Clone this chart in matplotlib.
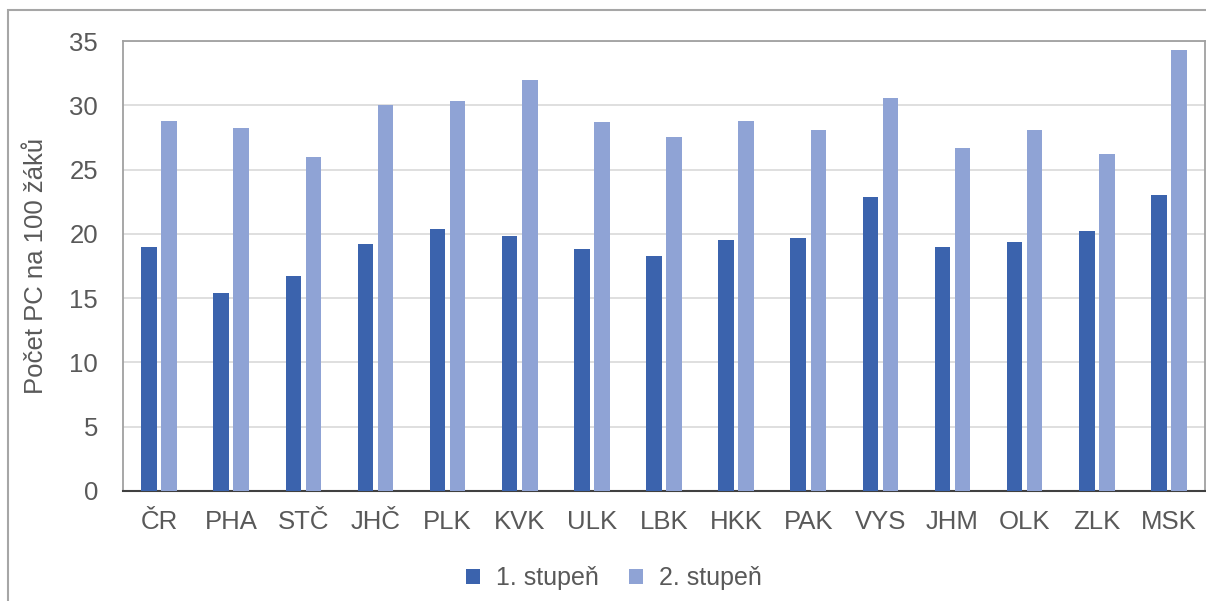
import matplotlib
matplotlib.use("Agg")
import matplotlib.pyplot as plt
import numpy as np
from matplotlib.patches import Rectangle

plt.rcParams['font.family'] = ['Liberation Sans', 'DejaVu Sans']

categories = ["ČR", "PHA", "STČ", "JHČ", "PLK", "KVK", "ULK", "LBK", "HKK", "PAK",
              "VYS", "JHM", "OLK", "ZLK", "MSK"]
stupen1 = [19.0, 15.4, 16.7, 19.2, 20.4, 19.8, 18.8, 18.3, 19.5, 19.7, 22.9, 19.0, 19.4, 20.2, 23.0]
stupen2 = [28.8, 28.2, 26.0, 30.0, 30.3, 32.0, 28.7, 27.5, 28.8, 28.1, 30.6, 26.7, 28.1, 26.2, 34.3]
series_names = ["1. stupeň", "2. stupeň"]
yticks = [0, 5, 10, 15, 20, 25, 30, 35]

c1 = "#3B63AD"
c2 = "#8FA3D5"
txt = "#595959"
fs = 18.5

fig = plt.figure(figsize=(12.06, 6.01), dpi=100)
ax = fig.add_axes([123/1206, 1-491/601, (1205-123)/1206, (491-41)/601])

x = np.arange(len(categories))
w = 0.215
off = 0.139
ax.bar(x - off, stupen1, width=w, color=c1, label=series_names[0], zorder=3)
ax.bar(x + off, stupen2, width=w, color=c2, label=series_names[1], zorder=3)

ax.set_xlim(-0.5, len(categories) - 0.5)
ax.set_ylim(0, 35)
ax.set_yticks(yticks)
ax.set_xticks(x)
ax.set_xticklabels(categories)
ax.tick_params(axis='both', length=0, labelsize=fs, colors=txt)
ax.tick_params(axis='x', pad=14)
ax.tick_params(axis='y', pad=18)
ax.yaxis.grid(True, color="#D9D9D9", linewidth=1.2, zorder=0)
ax.set_axisbelow(True)
for s in ["top", "right", "left"]:
    ax.spines[s].set_color("#A0A0A0")
    ax.spines[s].set_linewidth(1.3)
ax.spines["bottom"].set_color("#404040")
ax.spines["bottom"].set_linewidth(1.5)

ax.set_ylabel("Počet PC na 100 žáků", fontsize=fs, color=txt)
ax.yaxis.set_label_coords((48-123)/1082, 0.5)

leg = ax.legend(loc="center", bbox_to_anchor=((614-123)/1082, (491-578)/450), ncol=2, frameon=False,
                fontsize=18, handlelength=0.55, handleheight=0.55, handletextpad=0.65,
                columnspacing=1.2, labelcolor=txt)

fig.patches.append(Rectangle((8/1206, -0.1), 1.2, 1 - 10/601 + 0.1, transform=fig.transFigure,
                             fill=False, edgecolor="#A6A6A6", linewidth=1.5))

fig.savefig("out.png", dpi=100)
